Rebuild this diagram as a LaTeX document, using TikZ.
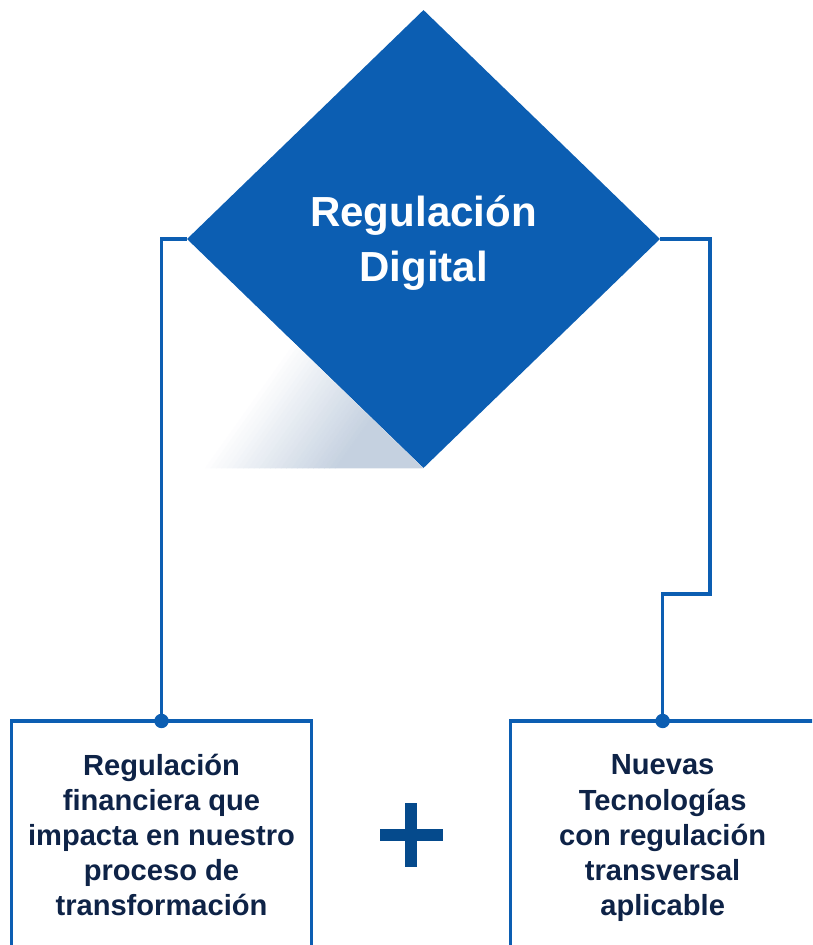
\documentclass[tikz,border=0pt]{standalone}
\usepackage{fontspec}
\setmainfont{Liberation Sans}
\usetikzlibrary{shapes.geometric, positioning, calc}
\definecolor{regblue}{HTML}{0C5EB2}
\definecolor{plusblue}{HTML}{054A8C}
\definecolor{navytext}{HTML}{0E2347}
\definecolor{shadowgray}{HTML}{C5D1E0}

\begin{document}
\begin{tikzpicture}[
        x=0.025cm, y=0.025cm,
        rhombus/.style={
            diamond,
            fill=regblue,
            inner sep=0pt,
            minimum width=11.825cm,
            minimum height=11.45cm,
            text=white,
            text depth=0pt,
            align=center,
            font=\fontsize{29.9}{39}\selectfont\bfseries
        },
        box/.style={
            rectangle,
            draw=regblue,
            line width=2.6pt,
            fill=white,
            outer sep=0pt,
            minimum width=7.5cm,
            minimum height=5.7cm,
            text=navytext,
            text depth=0pt,
            align=center,
            execute at begin node={\rule{0pt}{19.5pt}},
            font=\fontsize{20.7}{24.9}\selectfont\bfseries
        },
        wire/.style={regblue, line width=2.6pt},
        joint/.style={circle, fill=regblue, inner sep=0pt, minimum size=0.36cm}
    ]

    \useasboundingbox (0,0) rectangle (812,-945);
    \clip (0,0) rectangle (812,-945);

    % --- NODES ---
    \node (dia) [rhombus] at (423.5,-239) {Regulación\\Digital};

    \node (lbox) [box] at (161.5,-835) {
        Regulación\\
        financiera que\\
        impacta en nuestro\\
        proceso de\\
        transformación
    };

    \node (rbox) [box, minimum width=7.6cm, right=4.975cm of lbox] {
        Nuevas\\
        Tecnologías\\
        con regulación\\
        transversal\\
        aplicable
    };

    % --- SHADOW ---
    \begin{scope}
        \clip (dia.west) -- (dia.south) -- (dia.west |- dia.south) -- cycle;
        \begin{scope}[shift={(200,-468)}, rotate=-35.5]
            \foreach \i in {0,...,24} {
                \pgfmathtruncatemacro\tint{4*\i}
                \fill [shadowgray!\tint!white] (\i*4.4,-500) rectangle (\i*4.4+4.8,500);
            }
            \fill [shadowgray] (110,-500) rectangle (500,500);
        \end{scope}
    \end{scope}

    % --- WIRES ---
    \coordinate (bend) at (710,-594);
    \draw [wire] (dia.west) -| (lbox.north);
    \draw [wire] (dia.east) -| (bend) -| (rbox.north);

    \node (ljoint) [joint] at (lbox.north) {};
    \node (rjoint) [joint] at (rbox.north) {};

    % --- PLUS ---
    \coordinate (plus) at ($(lbox.east)!0.5!(rbox.west)$);
    \fill [plusblue] ($(plus)+(-31.5,-6)$) rectangle ($(plus)+(31.5,6)$);
    \fill [plusblue] ($(plus)+(-6,-32)$) rectangle ($(plus)+(6,32)$);

\end{tikzpicture}
\end{document}
